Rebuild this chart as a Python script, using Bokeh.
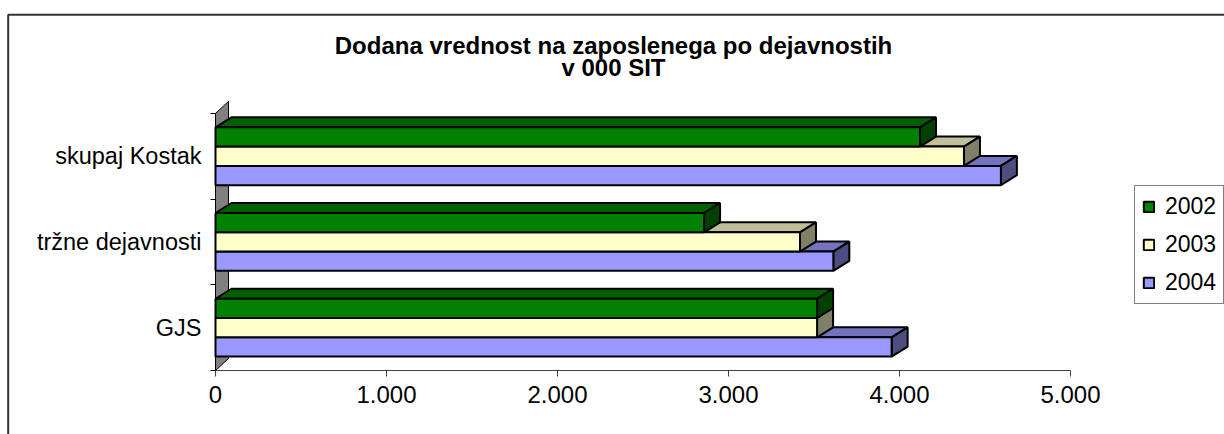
import numpy as np
from bokeh.plotting import figure
from bokeh.models import (Range1d, FixedTicker, Legend, LegendItem, Label, BoxAnnotation)
from bokeh.embed import file_html
from bokeh.resources import INLINE

# ---------------- data ----------------
title_lines = ["Dodana vrednost na zaposlenega po dejavnostih", "v 000 SIT"]
categories = ["GJS", "tržne dejavnosti", "skupaj Kostak"]
years = ["2002", "2003", "2004"]
values_2002 = [3518, 2857, 4120]
values_2003 = [3518, 3418, 4377]
values_2004 = [3954, 3613, 4593]
x_ticks = [0, 1000, 2000, 3000, 4000, 5000]
x_tick_labels = ["0", "1.000", "2.000", "3.000", "4.000", "5.000"]

# ---------------- styles / layout ----------------
front_colors = ["#008000", "#FFFFCC", "#9999FF"]
top_colors = ["#006000", "#BFBF99", "#7373BF"]
side_colors = ["#004000", "#808066", "#4D4D80"]
FONT = "Liberation Sans"

W, H = 1224, 434
X0_PX, X1_PX = 215, 1070     # pixel position of value 0 and 5000
Y0_PX = 370                  # pixel position of category axis base
PX_PER_CAT = 85.7
XMAX = 5000
xpx = XMAX / (X1_PX - X0_PX)            # data units per pixel (x)

def px_x(px):
    return (px - X0_PX) * xpx

def px_y(py):
    return (Y0_PX - py) / PX_PER_CAT

p = figure(width=W, height=H, output_backend="svg", toolbar_location=None,
           x_range=Range1d(px_x(0), px_x(W)), y_range=Range1d(px_y(H), px_y(0)),
           min_border_left=0, min_border_right=0, min_border_top=0, min_border_bottom=0)
p.grid.visible = False
p.outline_line_color = None
p.background_fill_color = "white"
p.border_fill_color = "white"

dx = 16 * xpx
dy = 10 / PX_PER_CAT
bar_h = 0.225
offsets = [bar_h, 0.0, -bar_h]
ncat = len(categories)

# side wall
wdx = 13 * xpx
wdy = 12 / PX_PER_CAT
p.patch([0, 0, wdx, wdx], [0, ncat, ncat + wdy, wdy],
        fill_color="#808080", line_color="black", line_width=1)

series = [values_2002, values_2003, values_2004]
renderers = {}
for k in [2, 1, 0]:
    vals = np.array(series[k], dtype=float)
    yc = np.arange(ncat) + 0.5 + offsets[k]
    bottom = yc - bar_h / 2
    top = yc + bar_h / 2
    top_xs = [[0, v, v + dx, dx] for v in vals]
    top_ys = [[t, t, t + dy, t + dy] for t in top]
    side_xs = [[v, v + dx, v + dx, v] for v in vals]
    side_ys = [[b, b + dy, t + dy, t] for b, t in zip(bottom, top)]
    p.patches(top_xs, top_ys, fill_color=top_colors[k], line_color="black", line_width=2)
    p.patches(side_xs, side_ys, fill_color=side_colors[k], line_color="black", line_width=2)
    renderers[k] = p.quad(left=0, right=vals, bottom=bottom, top=top,
                          fill_color=front_colors[k], line_color="black", line_width=2)

# y axis (category axis)
ya = p.yaxis[0]
ya.fixed_location = 0
ya.bounds = (0, ncat)
ya.ticker = FixedTicker(ticks=[i + 0.5 for i in range(ncat)], minor_ticks=list(range(ncat + 1)))
ya.major_label_overrides = {i + 0.5: c for i, c in enumerate(categories)}
ya.major_tick_line_color = None
ya.major_tick_out = 0
ya.major_tick_in = 0
ya.minor_tick_line_color = "black"
ya.minor_tick_out = 5
ya.minor_tick_in = 0
ya.axis_line_color = None
ya.major_label_text_font = FONT
ya.major_label_text_font_size = "23.5px"
ya.major_label_text_color = "black"
ya.major_label_standoff = 9

# x axis (value axis)
xa = p.xaxis[0]
xa.fixed_location = 0
xa.bounds = (0, XMAX)
xa.ticker = FixedTicker(ticks=x_ticks, minor_ticks=[])
xa.major_label_overrides = dict(zip(x_ticks, x_tick_labels))
xa.axis_line_color = "#404040"
xa.major_tick_line_color = "#404040"
xa.major_tick_out = 6
xa.major_tick_in = 0
xa.minor_tick_line_color = None
xa.major_label_text_font = FONT
xa.major_label_text_font_size = "24px"
xa.major_label_text_color = "black"
xa.major_label_standoff = 9

# title
for line, py in zip(title_lines, [45, 67]):
    p.add_layout(Label(x=px_x(613), y=px_y(py), text=line, text_align="center",
                       text_baseline="middle", text_font=FONT, text_font_style="bold",
                       text_font_size="24px", text_color="black"))

# outer chart border
p.add_layout(BoxAnnotation(left=px_x(7.7), right=px_x(W + 30), top=px_y(14.3), bottom=px_y(H + 30),
                           fill_alpha=0, line_color="#333333", line_alpha=1.0, line_width=2))

legend = Legend(items=[LegendItem(label=years[k], renderers=[renderers[k]]) for k in range(3)],
                location=(1134, H - 304), margin=0, padding=7, spacing=11,
                label_standoff=10, glyph_width=13, glyph_height=13, label_height=26,
                label_text_font=FONT, label_text_font_size="23px", label_text_color="black",
                border_line_color="black", border_line_width=1,
                background_fill_color="white", background_fill_alpha=1.0)
p.add_layout(legend)

open("out.html", "w").write(file_html(p, INLINE))
